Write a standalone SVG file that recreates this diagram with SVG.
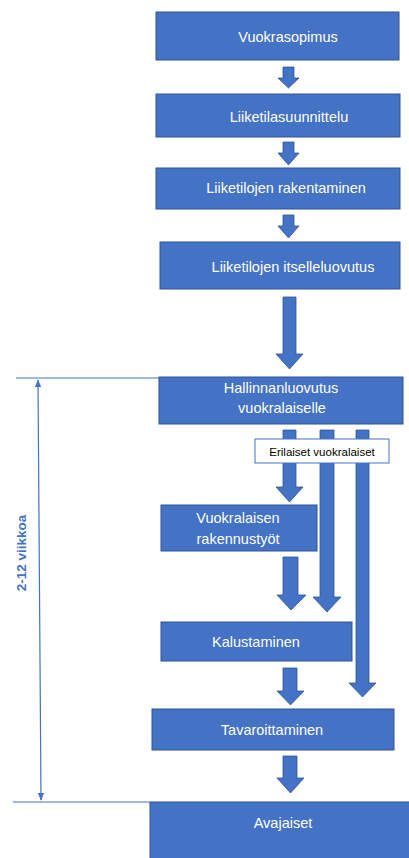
<svg xmlns="http://www.w3.org/2000/svg" width="409" height="858" viewBox="0 0 409 858">
<defs>
<style>
.box{fill:#4472C4;stroke:#2F5597;stroke-width:1}
.arr{fill:#4472C4;stroke:#2F5597;stroke-width:0.8}
.t{font-family:"Liberation Sans",Arial,sans-serif;font-size:14.5px;fill:#ffffff;text-anchor:middle}
.lbl{font-family:"Liberation Sans",Arial,sans-serif;font-size:11.5px;fill:#000000;text-anchor:middle}
.dim{stroke:#4472C4;stroke-width:1.2;fill:none}
</style>
<marker id="ah" viewBox="0 0 10 10" refX="9" refY="5" markerWidth="8" markerHeight="8" orient="auto-start-reverse" markerUnits="userSpaceOnUse">
<path d="M0,1 L10,5 L0,9 z" fill="#4472C4"/>
</marker>
</defs>
<rect width="409" height="858" fill="#ffffff"/>
<g id="connectors">
<path class="arr" d="M283,67 H294 V78 H299 L288.5,88 L278,78 H283 Z"/>
<path class="arr" d="M283,142 H294 V153 H299 L288.5,165 L278,153 H283 Z"/>
<path class="arr" d="M283,215 H294 V226 H299 L288.5,238 L278,226 H283 Z"/>
<path class="arr" d="M283,297 H296 V354 H303 L289.5,369 L276,354 H283 Z"/>
<path class="arr" d="M283,430 H296 V487 H303 L289.5,502 L276,487 H283 Z"/>
<path class="arr" d="M320,430 H334 V597 H341 L327,612 L313,597 H320 Z"/>
<path class="arr" d="M356,430 H369 V683 H376 L362.5,697 L349,683 H356 Z"/>
<path class="arr" d="M283,557 H298 V595 H306 L291,610 L277,595 H283 Z"/>
<path class="arr" d="M283,668 H297 V691 H304 L290.5,705 L277,691 H283 Z"/>
<path class="arr" d="M283,756 H297 V778 H304 L290.5,793 L277,778 H283 Z"/>
<line class="dim" x1="16" y1="378" x2="160" y2="378"/>
<line class="dim" x1="13" y1="802" x2="150" y2="802"/>
<line class="dim" x1="38" y1="380" x2="41" y2="800" marker-start="url(#ah)" marker-end="url(#ah)"/>
</g>
<text x="26" y="553" transform="rotate(-90 26 553)" font-family="'Liberation Sans',Arial,sans-serif" font-size="13.5" font-weight="bold" fill="#4472C4" text-anchor="middle">2-12 viikkoa</text>
<g id="n1"><rect class="box" x="156" y="12" width="243" height="48"/><text class="t" x="288" y="42">Vuokrasopimus</text></g>
<g id="n2"><rect class="box" x="156" y="94" width="244" height="43"/><text class="t" x="289" y="122">Liiketilasuunnittelu</text></g>
<g id="n3"><rect class="box" x="156" y="168" width="244" height="41"/><text class="t" x="286" y="193">Liiketilojen rakentaminen</text></g>
<g id="n4"><rect class="box" x="160" y="242" width="240" height="47"/><text class="t" x="293" y="272">Liiketilojen itselleluovutus</text></g>
<g id="n5"><rect class="box" x="159" y="377" width="244" height="47"/><text class="t" x="281" y="393">Hallinnanluovutus</text><text class="t" x="282" y="413">vuokralaiselle</text></g>
<g id="label"><rect x="255" y="439" width="134" height="24" fill="#ffffff" stroke="#4472C4" stroke-width="1"/><text class="lbl" x="322" y="456">Erilaiset vuokralaiset</text></g>
<g id="n6"><rect class="box" x="161" y="505" width="156" height="46"/><text class="t" x="238" y="523">Vuokralaisen</text><text class="t" x="238" y="544">rakennustyöt</text></g>
<g id="n7"><rect class="box" x="161" y="622" width="191" height="39"/><text class="t" x="256" y="647">Kalustaminen</text></g>
<g id="n8"><rect class="box" x="152" y="709" width="242" height="41"/><text class="t" x="272" y="735">Tavaroittaminen</text></g>
<g id="n9"><rect class="box" x="150" y="802" width="260" height="57"/><text class="t" x="283" y="828">Avajaiset</text></g>
</svg>
